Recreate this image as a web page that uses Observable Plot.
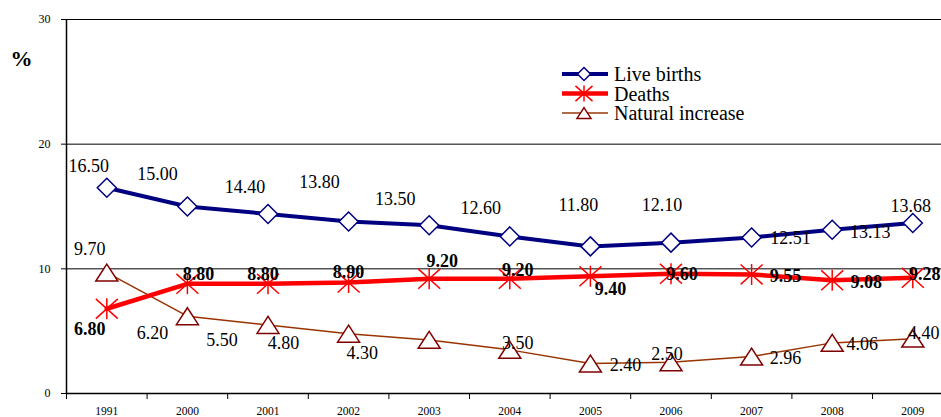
<!DOCTYPE html>
<html><head><meta charset="utf-8">
<script src="https://cdn.jsdelivr.net/npm/d3@7"></script>
<script src="https://cdn.jsdelivr.net/npm/@observablehq/plot@0.6"></script>
<style>
body{margin:0;background:#fff;}
#wrap{position:relative;width:941px;height:417px;overflow:hidden;font-family:"Liberation Serif",serif;}
#wrap svg, #wrap svg text{font-family:"Liberation Serif",serif !important;}
#legend{position:absolute;left:555px;top:60px;}
</style></head><body><div id="wrap"></div>
<script>
// ---- data ----
const years = ["1991","2000","2001","2002","2003","2004","2005","2006","2007","2008","2009"];
const liveBirths = [16.50,15.00,14.40,13.80,13.50,12.60,11.80,12.10,12.51,13.13,13.68];
const deaths = [6.80,8.80,8.80,8.90,9.20,9.20,9.40,9.60,9.55,9.08,9.28];
const naturalIncrease = [9.70,6.20,5.50,4.80,4.30,3.50,2.40,2.50,2.96,4.06,4.40];
const yTicks = [0,10,20,30];
const gridValues = [10,20,30];
const seriesNames = ["Live births","Deaths","Natural increase"];
const yUnit = "%";

// ---- label offsets (pixels, relative to each point) ----
const birthsDx = [-18,-30,-23,-29,-34,-29,-12,-9,39,38,-2];
const birthsDy = [-22,-32,-27,-39,-26,-28,-41,-37,1,2,-17];
const deathsDx = [-17,11,-5,0,13,8,20,11,34,34,12];
const deathsDy = [21,-10,-10,-10,-18,-9,13,0,2,2,-4];
const naturalDx = [-17,-35,-46,-65,-67,8,35,-4,34,30,11];
const naturalDy = [-23,17,15,10,13,-7,2,-8,2,1,-5];

const rows = years.map((year,i)=>({i, year, x:i+0.5, births:liveBirths[i], deaths:deaths[i], natural:naturalIncrease[i]}));

function sym(fn){ return {draw(ctx,size){ const r=Math.sqrt(size/Math.PI); fn(ctx,r);} }; }
const diamondSym = sym((c,r)=>{c.moveTo(0,-r);c.lineTo(r,0);c.lineTo(0,r);c.lineTo(-r,0);c.closePath();});
const starSym = sym((c,r)=>{const v=r*0.9;c.moveTo(0,-r*0.95);c.lineTo(0,r*0.95);c.moveTo(-r,-v);c.lineTo(r,v);c.moveTo(-r,v);c.lineTo(r,-v);});
const triSym = sym((c,r)=>{const h=r*0.77;c.moveTo(0,-h);c.lineTo(r,h);c.lineTo(-r,h);c.closePath();});

const FONT = "Liberation Serif";
function labels(key, dxs, dys, bold){
  return rows.map((d,i)=>Plot.text([d],{x:"x",y:key,text:d=>d[key].toFixed(2),dx:dxs[i],dy:dys[i],
    fontSize:18,fontFamily:FONT,fontWeight:bold?"bold":"normal",fill:"#000",lineAnchor:"middle",textAnchor:"middle"}));
}

const band = 80.6;
const chart = Plot.plot({
  width:941, height:417, marginLeft:66, marginRight:0, marginTop:19, marginBottom:24,
  style:{fontFamily:FONT, background:"white", color:"#000"},
  x:{domain:[0,years.length], range:[66, 66+band*years.length]},
  y:{domain:[0,30]},
  marks:[
    Plot.ruleY(gridValues,{stroke:"#000",strokeWidth:1}),
    Plot.ruleY([0],{stroke:"#000",strokeWidth:1.5}),
    Plot.ruleX([0],{stroke:"#000",strokeWidth:1.5}),
    Plot.axisY({ticks:yTicks, tickSize:5, tickPadding:11, fontSize:12, fontFamily:FONT, label:null}),
    Plot.axisX({ticks:d3.range(years.length+1), tickSize:6, tickFormat:()=>"", label:null}),
    Plot.axisX({ticks:rows.map(d=>d.x), tickSize:0, tickPadding:13, fontSize:11.5, fontFamily:FONT, tickFormat:x=>years[Math.floor(x)], label:null}),
    Plot.text([yUnit],{frameAnchor:"top-left", dx:-45, dy:39, fontSize:22, fontFamily:FONT, fontWeight:"bold", textAnchor:"middle", lineAnchor:"middle"}),
    Plot.line(rows,{x:"x",y:"natural",stroke:"#993300",strokeWidth:1.5}),
    Plot.line(rows,{x:"x",y:"deaths",stroke:"#ff0000",strokeWidth:4.5}),
    Plot.line(rows,{x:"x",y:"births",stroke:"#000080",strokeWidth:4}),
    Plot.dot(rows,{x:"x",y:"natural",symbol:triSym,r:11,fill:"white",stroke:"#800000",strokeWidth:1.5}),
    Plot.dot(rows,{x:"x",y:"deaths",symbol:starSym,r:11,fill:"none",stroke:"#ff0000",strokeWidth:1.5}),
    Plot.dot(rows,{x:"x",y:"births",symbol:diamondSym,r:9.5,fill:"white",stroke:"#000080",strokeWidth:1.5}),
    ...labels("natural",naturalDx,naturalDy,false),
    ...labels("births",birthsDx,birthsDy,false),
    ...labels("deaths",deathsDx,deathsDy,true)
  ]
});
const wrap = document.getElementById("wrap");
wrap.appendChild(chart);

// ---- legend ----
const legendItems = [
  {name:seriesNames[0], stroke:"#000080", w:4, sym:diamondSym, r:6.5, fill:"white", ms:"#000080"},
  {name:seriesNames[1], stroke:"#ff0000", w:4.5, sym:starSym, r:8.5, fill:"none", ms:"#ff0000"},
  {name:seriesNames[2], stroke:"#b06a48", w:2, sym:triSym, r:7, fill:"white", ms:"#800000"}
];
const lg = d3.create("svg").attr("id","legend").attr("width",220).attr("height",72);
legendItems.forEach((it,k)=>{
  const y = 14 + k*19.5;
  const g = lg.append("g").attr("transform",`translate(0,${y})`);
  g.append("line").attr("x1",7).attr("x2",53).attr("y1",0).attr("y2",0).attr("stroke",it.stroke).attr("stroke-width",it.w);
  g.append("path").attr("transform","translate(29,0)").attr("d",d3.symbol(it.sym, Math.PI*it.r*it.r)())
    .attr("fill",it.fill).attr("stroke",it.ms).attr("stroke-width",1.5);
  g.append("text").attr("x",59).attr("y",7).attr("font-size",20).attr("font-family",FONT)
    .attr("fill","#000").text(it.name);
});
wrap.appendChild(lg.node());
</script></body></html>
